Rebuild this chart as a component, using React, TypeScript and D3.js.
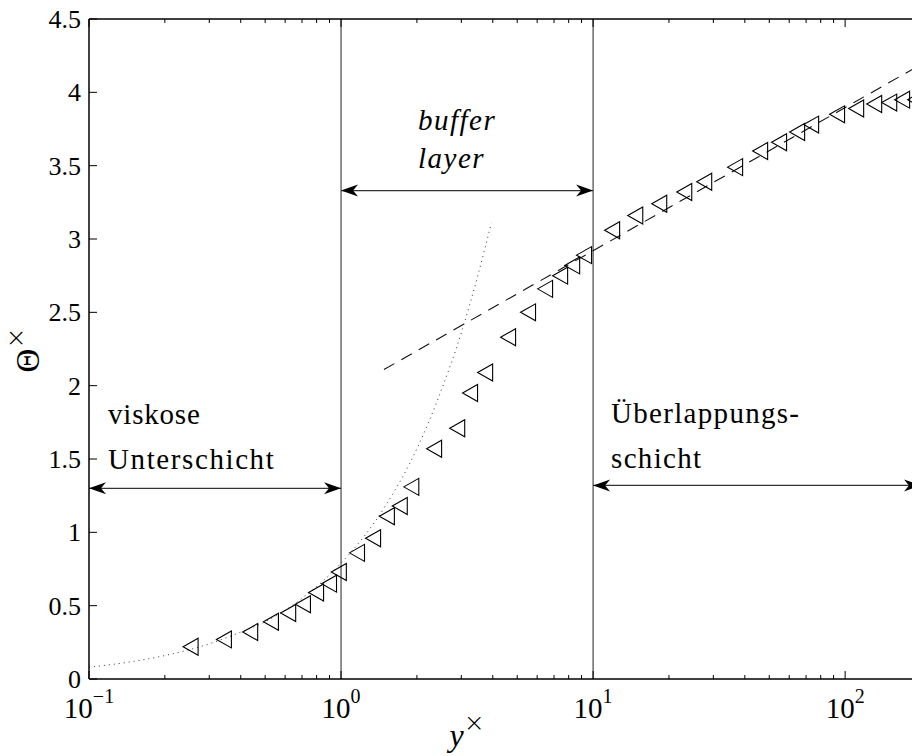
import { useEffect, useRef } from 'react'
import * as d3 from 'd3'

const W = 912
const H = 756
const MARGIN = { top: 19, right: -9, bottom: 77, left: 89 }
const FONT = '"Liberation Serif", "Times New Roman", serif'

// measured points (y+ vs Theta+)
const yPlus = [
  0.253, 0.343, 0.436, 0.527, 0.617, 0.706, 0.796, 0.896, 0.98, 1.157, 1.34, 1.52, 1.71, 1.9,
  2.34, 2.89, 3.25, 3.73, 4.6, 5.52, 6.45, 7.4, 8.26, 9.21, 11.9, 14.7, 18.3, 23.0, 27.6, 36.6,
  46.0, 54.7, 64.5, 73.3, 92.9, 110.6, 130.4, 149.6, 168.3, 189.6,
]
const thetaPlus = [
  0.22, 0.27, 0.32, 0.39, 0.45, 0.51, 0.59, 0.65, 0.73, 0.86, 0.96, 1.11, 1.18, 1.31,
  1.57, 1.71, 1.95, 2.09, 2.33, 2.5, 2.66, 2.75, 2.82, 2.89, 3.06, 3.16, 3.24, 3.32, 3.39, 3.49,
  3.6, 3.66, 3.73, 3.78, 3.85, 3.89, 3.92, 3.93, 3.95, 3.95,
]

// linear law (dotted)
const linX = [0.1, 0.15, 0.2, 0.3, 0.4, 0.5, 0.7, 1, 1.5, 2, 2.5, 3, 3.5, 3.95]
const linY = [0.08, 0.12, 0.16, 0.24, 0.32, 0.39, 0.55, 0.79, 1.18, 1.57, 1.97, 2.36, 2.76, 3.11]

// log law (dashed)
const logX = [1.48, 200]
const logY = [2.11, 4.19]

const xTicks = [0.1, 1, 10, 100]
const xTickExp = ['\u22121', '0', '1', '2']
const yTicks = [0, 0.5, 1, 1.5, 2, 2.5, 3, 3.5, 4, 4.5]
const yTickLabels = ['0', '0.5', '1', '1.5', '2', '2.5', '3', '3.5', '4', '4.5']

const regionBounds = [1, 10]

export default function App() {
  const svgRef = useRef<SVGSVGElement>(null)

  useEffect(() => {
    if (!svgRef.current) return
    const innerW = W - MARGIN.left - MARGIN.right
    const innerH = H - MARGIN.top - MARGIN.bottom

    const el = d3.select(svgRef.current)
    el.selectAll('*').remove()

    const x = d3.scaleLog().domain([0.1, 200]).range([MARGIN.left, MARGIN.left + innerW])
    const y = d3.scaleLinear().domain([0, 4.5]).range([MARGIN.top + innerH, MARGIN.top])
    const x0 = x.range()[0]
    const x1 = x.range()[1]
    const y0 = y.range()[0]
    const y1 = y.range()[1]

    const clip = el.append('defs').append('clipPath').attr('id', 'plotclip')
    clip.append('rect').attr('x', x0).attr('y', y1).attr('width', innerW).attr('height', innerH)

    const plot = el.append('g').attr('clip-path', 'url(#plotclip)')

    // region boundaries
    plot.selectAll('.bound')
      .data(regionBounds)
      .join('line')
      .attr('x1', (d) => x(d)).attr('x2', (d) => x(d))
      .attr('y1', y0).attr('y2', y1)
      .attr('stroke', '#222').attr('stroke-width', 1)

    // dotted linear law
    const lin = d3.line<number>()
      .x((_, i) => x(linX[i]))
      .y((d) => y(d))
      .curve(d3.curveMonotoneX)
    plot.append('path')
      .datum(linY)
      .attr('fill', 'none')
      .attr('stroke', '#333')
      .attr('stroke-width', 1)
      .attr('stroke-dasharray', '1,4')
      .attr('d', lin)

    // dashed log law
    const lg = d3.line<number>()
      .x((_, i) => x(logX[i]))
      .y((d) => y(d))
    plot.append('path')
      .datum(logY)
      .attr('fill', 'none')
      .attr('stroke', '#111')
      .attr('stroke-width', 1.1)
      .attr('stroke-dasharray', '12,8')
      .attr('d', lg)

    // triangles
    const tri = 'M-7.5,0 L7.5,-8.5 L7.5,8.5 Z'
    plot.selectAll('.pt')
      .data(thetaPlus)
      .join('path')
      .attr('transform', (d, i) => `translate(${x(yPlus[i])},${y(d)})`)
      .attr('d', tri)
      .attr('fill', 'none')
      .attr('stroke', '#000')
      .attr('stroke-width', 1.1)

    // arrows
    const head = 'M0,0 L-17,-6 L-12,0 L-17,6 Z'
    const arrow = (xa: number, xb: number, yv: number) => {
      const ya = y(yv)
      plot.append('line')
        .attr('x1', xa).attr('x2', xb).attr('y1', ya).attr('y2', ya)
        .attr('stroke', '#333').attr('stroke-width', 1.2)
      plot.append('path').attr('d', head).attr('fill', '#000')
        .attr('transform', `translate(${xb},${ya})`)
      plot.append('path').attr('d', head).attr('fill', '#000')
        .attr('transform', `translate(${xa},${ya}) rotate(180)`)
    }
    arrow(x(0.1), x(1), 1.3)
    arrow(x(1), x(10), 3.33)
    arrow(x(10), x(200), 1.32)

    // annotation text
    const ann = el.append('g').attr('font-family', FONT).attr('font-size', 29).attr('fill', '#000')
    ann.append('text').attr('x', x(0.1) + 19).attr('y', 424).attr('letter-spacing', 0.8).text('viskose')
    ann.append('text').attr('x', x(0.1) + 19).attr('y', 469).attr('letter-spacing', 1.6).text('Unterschicht')
    ann.append('text').attr('x', x(10) + 18).attr('y', 423).attr('letter-spacing', 1.3).text('Überlappungs-')
    ann.append('text').attr('x', x(10) + 18).attr('y', 468).attr('letter-spacing', 1.3).text('schicht')
    ann.append('text').attr('x', 418).attr('y', 130).attr('font-style', 'italic').attr('letter-spacing', 1.5).text('buffer')
    ann.append('text').attr('x', 418).attr('y', 168).attr('font-style', 'italic').attr('letter-spacing', 1.5).text('layer')

    // axes box
    const ax = el.append('g').attr('stroke', '#000').attr('stroke-width', 1.5)
    ax.append('line').attr('x1', x0).attr('x2', x1).attr('y1', y0).attr('y2', y0)
    ax.append('line').attr('x1', x0).attr('x2', x1).attr('y1', y1).attr('y2', y1)
    ax.append('line').attr('x1', x0).attr('x2', x0).attr('y1', y0).attr('y2', y1)

    // x ticks (major + minor), bottom and top, inward
    const minor: number[] = []
    for (let e = -1; e <= 2; e++) {
      for (let k = 2; k <= 9; k++) {
        const v = k * Math.pow(10, e)
        if (v < 200) minor.push(v)
      }
    }
    const tk = el.append('g').attr('stroke', '#000').attr('stroke-width', 1)
    minor.forEach((v) => {
      tk.append('line').attr('x1', x(v)).attr('x2', x(v)).attr('y1', y0).attr('y2', y0 - 4)
      tk.append('line').attr('x1', x(v)).attr('x2', x(v)).attr('y1', y1).attr('y2', y1 + 4)
    })
    xTicks.forEach((v) => {
      tk.append('line').attr('x1', x(v)).attr('x2', x(v)).attr('y1', y0).attr('y2', y0 - 8)
      tk.append('line').attr('x1', x(v)).attr('x2', x(v)).attr('y1', y1).attr('y2', y1 + 8)
    })
    yTicks.forEach((v) => {
      tk.append('line').attr('x1', x0).attr('x2', x0 + 8).attr('y1', y(v)).attr('y2', y(v))
    })

    // tick labels
    const lab = el.append('g').attr('font-family', FONT).attr('fill', '#000')
    xTicks.forEach((v, i) => {
      const t = lab.append('text')
        .attr('x', x(v)).attr('y', 718)
        .attr('text-anchor', 'middle')
        .attr('font-size', 29)
      t.append('tspan').text('10')
      t.append('tspan').attr('dy', -15).attr('font-size', 20).text(xTickExp[i])
    })
    yTicks.forEach((v, i) => {
      lab.append('text')
        .attr('x', x0 - 8).attr('y', y(v))
        .attr('dy', '0.35em')
        .attr('text-anchor', 'end')
        .attr('font-size', 26)
        .text(yTickLabels[i])
    })

    // axis titles
    const xl = lab.append('text')
      .attr('x', 467).attr('y', 746)
      .attr('text-anchor', 'middle')
      .attr('font-size', 32)
    xl.append('tspan').attr('font-style', 'italic').text('y')
    xl.append('tspan').attr('dy', -15).attr('font-size', 25)
      .attr('font-family', '"DejaVu Sans", sans-serif').attr('font-weight', 300).text('×')

    const yl = lab.append('text')
      .attr('transform', 'translate(39,350) rotate(-90)')
      .attr('text-anchor', 'middle')
      .attr('font-size', 33)
    yl.append('tspan').text('Θ')
    yl.append('tspan').attr('dy', -15).attr('font-size', 25)
      .attr('font-family', '"DejaVu Sans", sans-serif').attr('font-weight', 300).text('×')
  }, [])

  return (
    <svg
      ref={svgRef}
      width={W}
      height={H}
      style={{ position: 'absolute', left: 0, top: 0, background: '#fff', overflow: 'hidden' }}
    />
  )
}
